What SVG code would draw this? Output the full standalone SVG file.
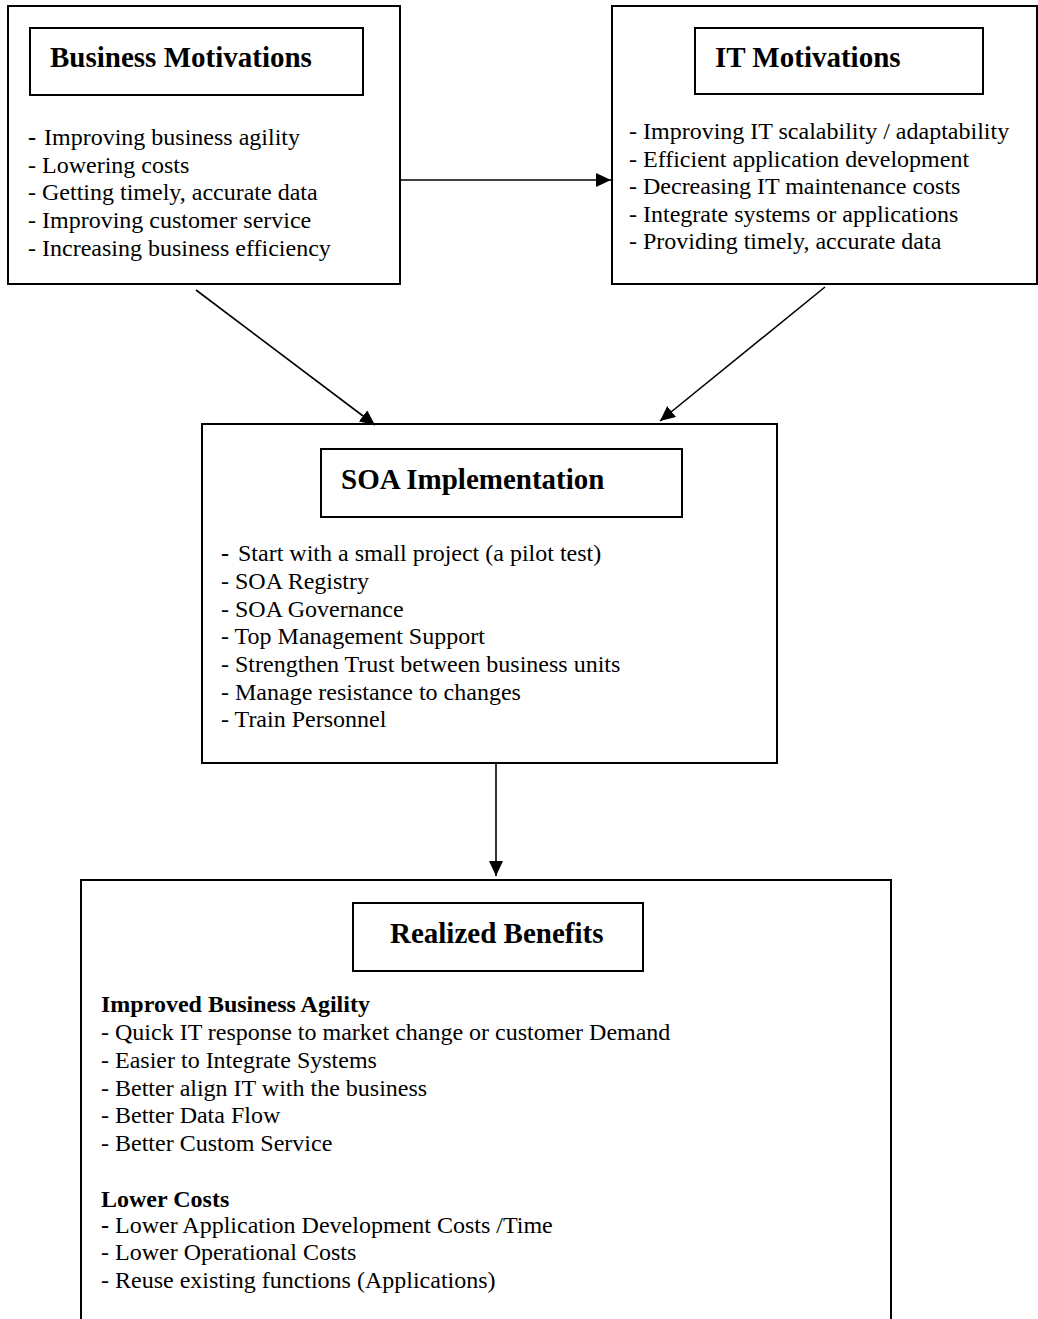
<svg xmlns="http://www.w3.org/2000/svg" width="1038" height="1319" viewBox="0 0 1038 1319">
<style>
.box{fill:#fff;stroke:#000;stroke-width:2}
.title{font-family:"Liberation Serif","Times New Roman",serif;font-weight:bold;font-size:29px;fill:#000}
.txt{font-family:"Liberation Serif","Times New Roman",serif;font-size:24px;fill:#000}
.sub{font-family:"Liberation Serif","Times New Roman",serif;font-size:24px;font-weight:bold;fill:#000}
.conn{stroke:#000;stroke-width:1.6;fill:none}
</style>
<defs>
<marker id="arr" markerUnits="userSpaceOnUse" markerWidth="17" markerHeight="15" refX="15" refY="7" orient="auto">
<path d="M0,0 L15,7 L0,14 z" fill="#000"/>
</marker>
</defs>
<rect width="1038" height="1319" fill="#fff"/>

<g id="business-motivations">
<rect class="box" x="8" y="6" width="392" height="278"/>
<rect class="box" x="30" y="28" width="333" height="67"/>
<text class="title" x="50" y="67">Business Motivations</text>
<text class="txt" x="28" y="145"><tspan font-weight="bold">-</tspan><tspan dx="2"> Improving business agility</tspan></text>
<text class="txt" x="28" y="173">- Lowering costs</text>
<text class="txt" x="28" y="200">- Getting timely, accurate data</text>
<text class="txt" x="28" y="228">- Improving customer service</text>
<text class="txt" x="28" y="256">- Increasing business efficiency</text>
</g>

<g id="it-motivations">
<rect class="box" x="612" y="6" width="425" height="278"/>
<rect class="box" x="695" y="28" width="288" height="66"/>
<text class="title" x="715" y="67">IT Motivations</text>
<text class="txt" x="629" y="139">- Improving IT scalability / adaptability</text>
<text class="txt" x="629" y="167">- Efficient application development</text>
<text class="txt" x="629" y="194">- Decreasing IT maintenance costs</text>
<text class="txt" x="629" y="222">- Integrate systems or applications</text>
<text class="txt" x="629" y="249">- Providing timely, accurate data</text>
</g>

<g id="soa-implementation">
<rect class="box" x="202" y="424" width="575" height="339"/>
<rect class="box" x="321" y="449" width="361" height="68"/>
<text class="title" x="341" y="489">SOA Implementation</text>
<text class="txt" x="221" y="561"><tspan font-weight="bold">-</tspan><tspan dx="3"> Start with a small project (a pilot test)</tspan></text>
<text class="txt" x="221" y="589">- SOA Registry</text>
<text class="txt" x="221" y="617">- SOA Governance</text>
<text class="txt" x="221" y="644">- Top Management Support</text>
<text class="txt" x="221" y="672">- Strengthen Trust between business units</text>
<text class="txt" x="221" y="700">- Manage resistance to changes</text>
<text class="txt" x="221" y="727">- Train Personnel</text>
</g>

<g id="realized-benefits">
<rect class="box" x="81" y="880" width="810" height="460"/>
<rect class="box" x="353" y="903" width="290" height="68"/>
<text class="title" x="390" y="943">Realized Benefits</text>
<text class="sub" x="101" y="1012">Improved Business Agility</text>
<text class="txt" x="101" y="1040">- Quick IT response to market change or customer Demand</text>
<text class="txt" x="101" y="1068">- Easier to Integrate Systems</text>
<text class="txt" x="101" y="1096">- Better align IT with the business</text>
<text class="txt" x="101" y="1123">- Better Data Flow</text>
<text class="txt" x="101" y="1151">- Better Custom Service</text>
<text class="sub" x="101" y="1207">Lower Costs</text>
<text class="txt" x="101" y="1233"><tspan font-weight="bold">-</tspan> Lower Application Development Costs /Time</text>
<text class="txt" x="101" y="1260">- Lower Operational Costs</text>
<text class="txt" x="101" y="1288">- Reuse existing functions (Applications)</text>
</g>

<g id="connectors">
<line class="conn" x1="400" y1="180" x2="611" y2="180" marker-end="url(#arr)"/>
<line class="conn" x1="196" y1="290" x2="375" y2="425" marker-end="url(#arr)"/>
<line class="conn" x1="825" y1="287" x2="660" y2="421" marker-end="url(#arr)"/>
<line class="conn" x1="496" y1="763" x2="496" y2="876" marker-end="url(#arr)"/>
</g>
</svg>
